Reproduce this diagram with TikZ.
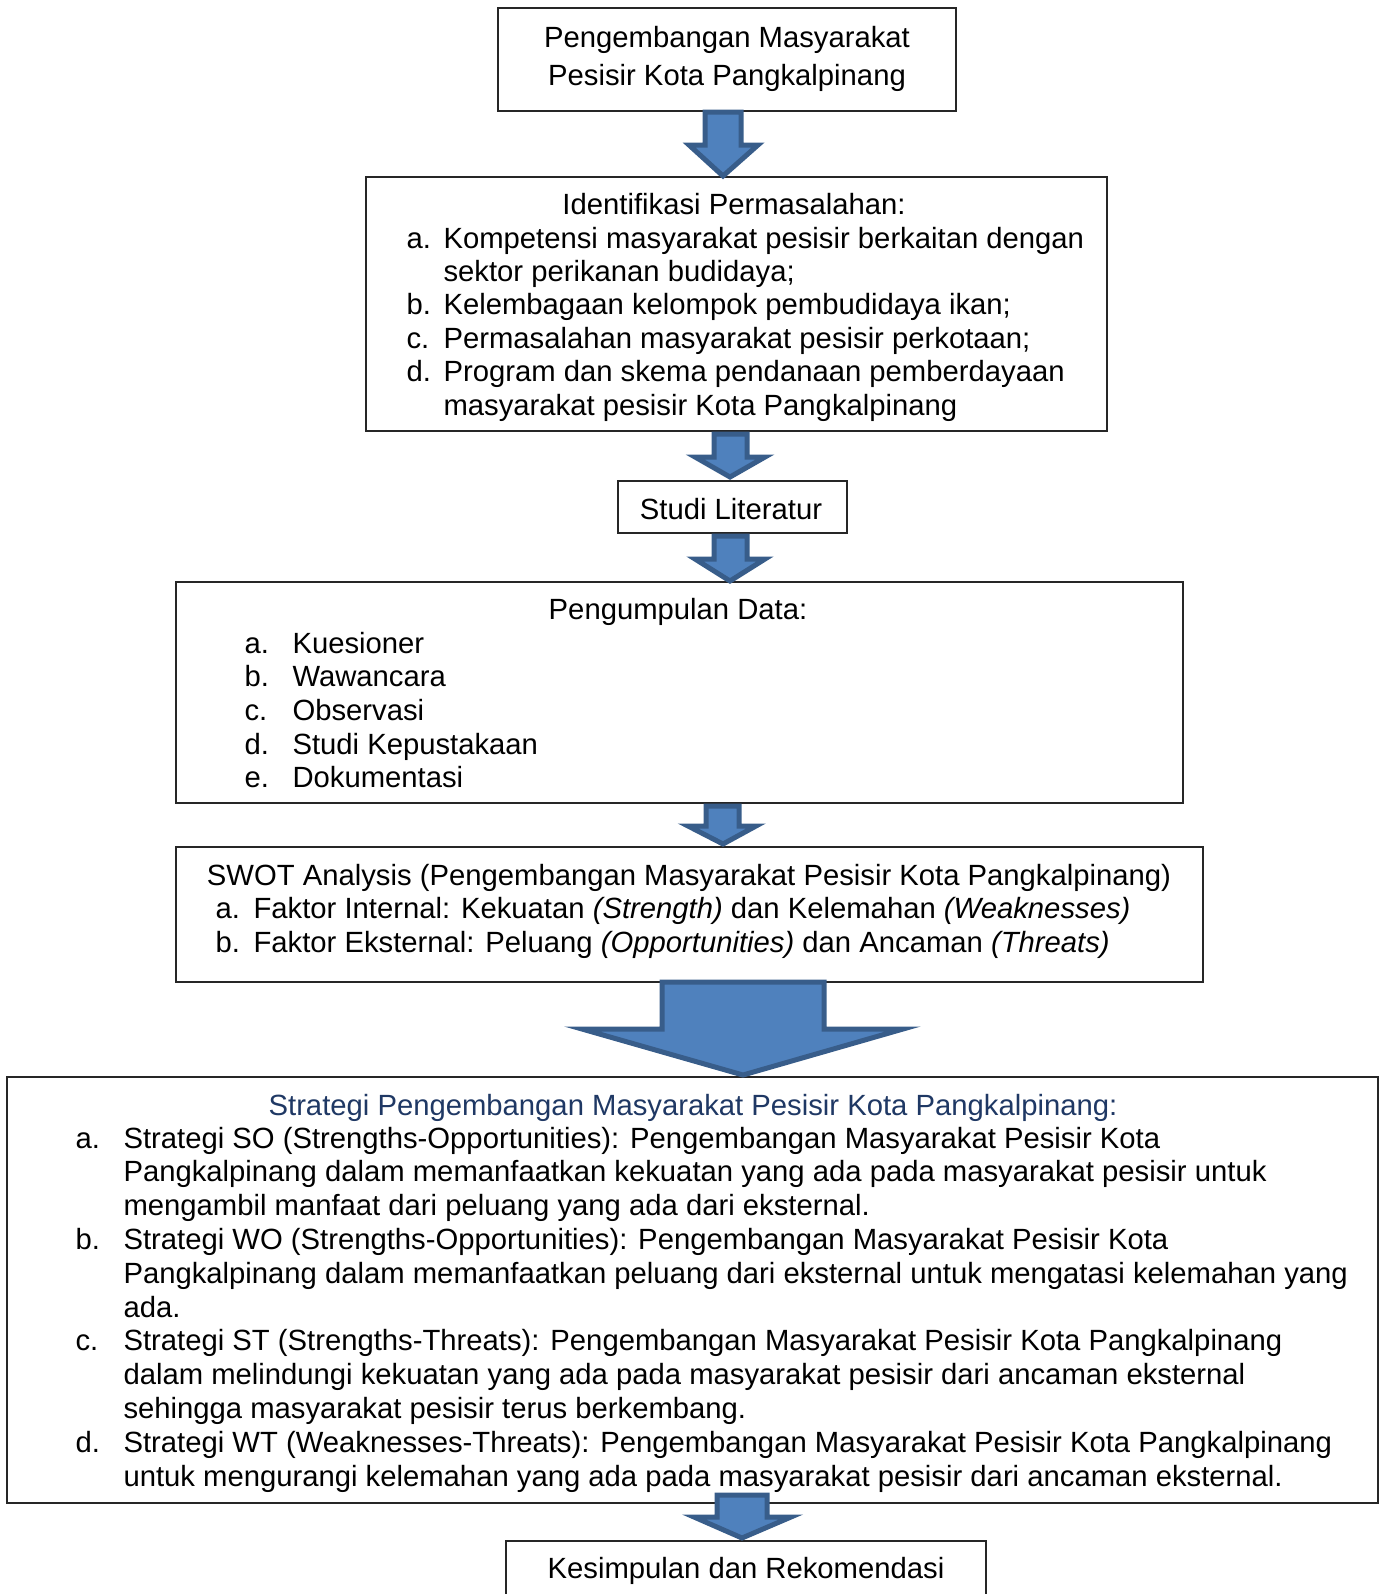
\documentclass[tikz,border=0pt]{standalone}
\usepackage{fontspec}
\setmainfont{Liberation Sans}
\usetikzlibrary{fit}
\definecolor{arrowfill}{HTML}{4F81BD}
\definecolor{arrowline}{HTML}{385D8A}
\definecolor{titleblue}{RGB}{31,56,100}
\tikzset{
  box/.style={draw=black!85, line width=0.6pt, inner sep=0pt, outer sep=0pt},
  tl/.style={anchor=base west, inner sep=0pt},
  tc/.style={anchor=base, inner sep=0pt},
  blockarrow/.style={fill=arrowfill, draw=arrowline, line width=2pt, line join=miter},
  every node/.append style={font=\fontsize{11.7}{13.5}\selectfont}
}
\newcommand\blkarrow[7]{% shaftL shaftR top headL headR headY tip
  \draw[blockarrow] (#1,#3) -- (#2,#3) -- (#2,#6) -- (#5,#6) -- (#7) -- (#4,#6) -- (#1,#6) -- cycle;}
\begin{document}
\begin{tikzpicture}[x=0.4pt,y=-0.4pt]
\useasboundingbox (0,0) rectangle (1384,1594);
\clip (0,0) rectangle (1384,1594);

% boxes
\node[box, fit={(498,8)(956,111)}] (b1) {};
\node[box, fit={(366,177)(1107,431)}] (b2) {};
\node[box, fit={(618,481)(847,533)}] (b3) {};
\node[box, fit={(176,582)(1183,803)}] (b4) {};
\node[box, fit={(176,847)(1203,982)}] (b5) {};
\node[box, fit={(7,1077)(1378,1503)}] (b6) {};
\node[box, fit={(506,1541)(986,1640)}] (b7) {};

% box 1
\node[tc] (t1a) at (727,47) {Pengembangan Masyarakat};
\node[tc] (t1b) at (727,85) {Pesisir Kota Pangkalpinang};

% box 2
\node[tc] (t2) at (734,214) {Identifikasi Permasalahan:};
\node[tl] (l2a) at (406,248) {a.};
\node[tl] (t2a1) at (443,248) {Kompetensi masyarakat pesisir berkaitan dengan};
\node[tl] (t2a2) at (443,281.4) {sektor perikanan budidaya;};
\node[tl] (l2b) at (406,314.8) {b.};
\node[tl] (t2b) at (443,314.8) {Kelembagaan kelompok pembudidaya ikan;};
\node[tl] (l2c) at (406,348.2) {c.};
\node[tl] (t2c) at (443,348.2) {Permasalahan masyarakat pesisir perkotaan;};
\node[tl] (l2d) at (406,381.6) {d.};
\node[tl] (t2d1) at (443,381.6) {Program dan skema pendanaan pemberdayaan};
\node[tl] (t2d2) at (443,415) {masyarakat pesisir Kota Pangkalpinang};

% box 3
\node[tc] (t3) at (731,519) {Studi Literatur};

% box 4
\node[tc] (t4) at (678,619) {Pengumpulan Data:};
\node[tl] (l4a) at (244,653) {a.};
\node[tl] (t4a) at (292,653) {Kuesioner};
\node[tl] (l4b) at (244,686.7) {b.};
\node[tl] (t4b) at (292,686.7) {Wawancara};
\node[tl] (l4c) at (244,720.4) {c.};
\node[tl] (t4c) at (292,720.4) {Observasi};
\node[tl] (l4d) at (244,754.1) {d.};
\node[tl] (t4d) at (292,754.1) {Studi Kepustakaan};
\node[tl] (l4e) at (244,787.8) {e.};
\node[tl] (t4e) at (292,787.8) {Dokumentasi};

% box 5
\node[tc] (t5) at (689,885) {SWOT Analysis (Pengembangan Masyarakat Pesisir Kota Pangkalpinang)};
\node[tl] (l5a) at (215,918.5) {a.};
\node[tl] (t5a) at (253,918.5) {Faktor Internal: Kekuatan \textit{(Strength)} dan Kelemahan \textit{(Weaknesses)}};
\node[tl] (l5b) at (215,952) {b.};
\node[tl] (t5b) at (253,952) {Faktor Eksternal: Peluang \textit{(Opportunities)} dan Ancaman \textit{(Threats)}};

% box 6
\node[tc, text=titleblue] (t6) at (693,1115) {Strategi Pengembangan Masyarakat Pesisir Kota Pangkalpinang:};
\node[tl] (l6a) at (75,1148) {a.};
\node[tl] (t6a1) at (123,1148) {Strategi SO (Strengths-Opportunities): Pengembangan Masyarakat Pesisir Kota};
\node[tl] (t6a2) at (123,1181.8) {Pangkalpinang dalam memanfaatkan kekuatan yang ada pada masyarakat pesisir untuk};
\node[tl] (t6a3) at (123,1215.6) {mengambil manfaat dari peluang yang ada dari eksternal.};
\node[tl] (l6b) at (75,1249.4) {b.};
\node[tl] (t6b1) at (123,1249.4) {Strategi WO (Strengths-Opportunities): Pengembangan Masyarakat Pesisir Kota};
\node[tl] (t6b2) at (123,1283.2) {Pangkalpinang dalam memanfaatkan peluang dari eksternal untuk mengatasi kelemahan yang};
\node[tl] (t6b3) at (123,1317) {ada.};
\node[tl] (l6c) at (75,1350.8) {c.};
\node[tl] (t6c1) at (123,1350.8) {Strategi ST (Strengths-Threats): Pengembangan Masyarakat Pesisir Kota Pangkalpinang};
\node[tl] (t6c2) at (123,1384.6) {dalam melindungi kekuatan yang ada pada masyarakat pesisir dari ancaman eksternal};
\node[tl] (t6c3) at (123,1418.4) {sehingga masyarakat pesisir terus berkembang.};
\node[tl] (l6d) at (75,1452.2) {d.};
\node[tl] (t6d1) at (123,1452.2) {Strategi WT (Weaknesses-Threats): Pengembangan Masyarakat Pesisir Kota Pangkalpinang};
\node[tl] (t6d2) at (123,1486) {untuk mengurangi kelemahan yang ada pada masyarakat pesisir dari ancaman eksternal.};

% box 7
\node[tc] (t7) at (746,1578) {Kesimpulan dan Rekomendasi};

% block arrows (tip coordinates)
\coordinate (p1) at (723,176);
\coordinate (p2) at (730,477);
\coordinate (p3) at (730,581);
\coordinate (p4) at (723,844);
\coordinate (p5) at (743,1075);
\coordinate (p6) at (742,1538);
\blkarrow{705}{741}{112}{689}{758}{145}{p1}
\blkarrow{714}{747}{434}{695}{765}{457}{p2}
\blkarrow{714}{747}{536}{695}{765}{559}{p3}
\blkarrow{706}{739}{806}{688}{756}{826}{p4}
\blkarrow{662}{824}{982}{582}{903}{1029}{p5}
\blkarrow{717}{767}{1495}{694}{791}{1517}{p6}
\end{tikzpicture}
\end{document}
